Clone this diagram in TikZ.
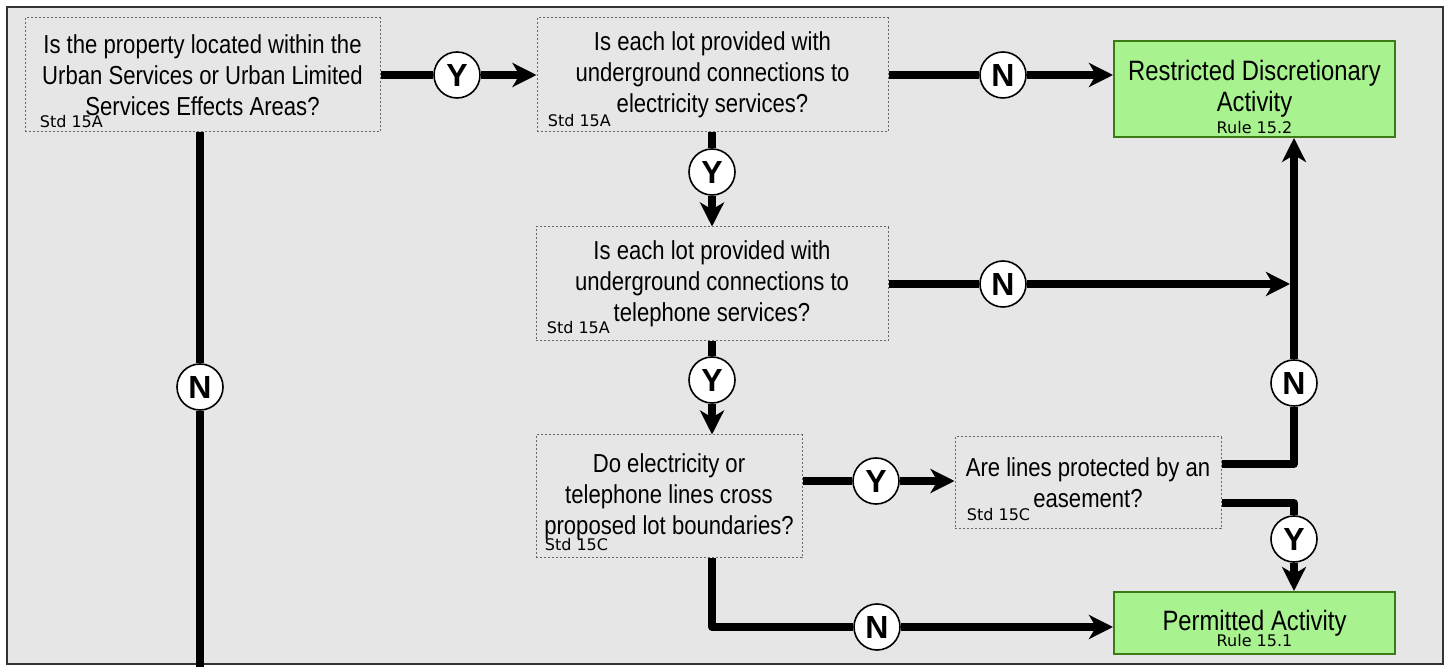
\documentclass[tikz,border=0pt]{standalone}
\usepackage{fontspec}
\setmainfont{Liberation Sans}
\newfontfamily\narrowfont{Liberation Sans}[FakeStretch=0.85]
\newfontfamily\tagfont{DejaVu Sans}
\usetikzlibrary{arrows.meta}
\definecolor{panel}{HTML}{E6E6E6}
\definecolor{okfill}{HTML}{A8F28F}
\definecolor{okline}{HTML}{3C7A14}
\tikzset{
  qbox/.style={draw=black!60, dash pattern=on 1pt off 1pt, line width=0.5pt, inner sep=0pt, align=center,
    font=\narrowfont\fontsize{13}{15.5}\selectfont},
  outbox/.style={draw=okline, fill=okfill, line width=1pt, inner sep=0pt, align=center,
    font=\narrowfont\fontsize{14}{15.5}\selectfont},
  stdtag/.style={inner sep=0pt, font=\tagfont\fontsize{8}{8}\selectfont},
  yn/.style={circle, draw, fill=white, line width=0.8pt, minimum size=23pt, inner sep=0pt,
    font=\bfseries\fontsize{16}{16}\selectfont},
  flow/.style={line width=3.75pt, line join=round},
  arrowflow/.style={flow, -{Stealth[length=12pt,width=12pt,inset=3.5pt]}}
}
\begin{document}
\begin{tikzpicture}[x=0.5pt,y=-0.5pt]
\useasboundingbox (0,0) rectangle (1451,667);
\draw[fill=panel, draw=black!80, line width=1pt] (7,7) rectangle (1443,664);

\node[qbox, minimum width=177.5pt, minimum height=57pt] (q1) at (202.5,75) {Is the property located within the\\Urban Services or Urban Limited\\Services Effects Areas?};
\node[qbox, minimum width=175.5pt, minimum height=57pt] (q2) at (712.5,75) {Is each lot provided with\\underground connections to\\electricity services?};
\node[qbox, minimum width=176pt, minimum height=57pt] (q3) at (712,284) {Is each lot provided with\\underground connections to\\telephone services?};
\node[qbox, minimum width=133pt, minimum height=61.5pt] (q4) at (669,496.5) {Do electricity or\\telephone lines cross\\proposed lot boundaries?};
\node[qbox, minimum width=133pt, minimum height=46pt] (q5) at (1088,483) {Are lines protected by an\\easement?};
\node[outbox, minimum width=140.5pt, minimum height=48pt] (rda) at (1254.5,89) {Restricted Discretionary\\Activity};
\node[outbox, minimum width=140.5pt, minimum height=31pt] (pa) at (1254.5,623) {Permitted Activity};

\node[stdtag, anchor=south west] (t1) at ([xshift=7.5pt,yshift=2pt]q1.south west) {Std 15A};
\node[stdtag, anchor=south west] (t2) at ([xshift=5.5pt,yshift=2.5pt]q2.south west) {Std 15A};
\node[stdtag, anchor=south west] (t3) at ([xshift=5.5pt,yshift=3.5pt]q3.south west) {Std 15A};
\node[stdtag, anchor=south west] (t4) at ([xshift=4.5pt,yshift=3.5pt]q4.south west) {Std 15C};
\node[stdtag, anchor=south west] (t5) at ([xshift=6pt,yshift=4pt]q5.south west) {Std 15C};
\node[stdtag, anchor=south] (r1) at ([yshift=2pt]rda.south) {Rule 15.2};
\node[stdtag, anchor=south] (r2) at ([yshift=4pt]pa.south) {Rule 15.1};

\node[yn] (y1) at (457,75) {Y};
\node[yn] (n1) at (1003,75) {N};
\node[yn] (y2) at (712,172) {Y};
\node[yn] (n2) at (1003,284) {N};
\node[yn] (y3) at (712,380) {Y};
\node[yn] (y4) at (876,481) {Y};
\node[yn] (n3) at (1294,383) {N};
\node[yn] (y5) at (1294,539) {Y};
\node[yn] (n4) at (877,627) {N};
\node[yn] (n5) at (200,387) {N};

\coordinate (c1) at (1294,464);
\coordinate (c2) at (1294,503);
\coordinate (c3) at (712,627);
\coordinate (tj) at (1290,284);
\coordinate (bot) at (200,667);

\draw[flow] (q1.east) -- (y1);
\draw[arrowflow] (y1) -- (q2.west);
\draw[flow] (q2.east) -- (n1);
\draw[arrowflow] (n1) -- (n1 -| rda.west);
\draw[flow] (q2.south -| y2) -- (y2);
\draw[arrowflow] (y2) -- (q3.north);
\draw[flow] (q3.east) -- (n2);
\draw[arrowflow] (n2) -- (tj);
\draw[flow] (q3.south) -- (y3);
\draw[arrowflow] (y3) -- (y3 |- q4.north);
\draw[flow] (q4.east |- y4) -- (y4);
\draw[arrowflow] (y4) -- (y4 -| q5.west);
\draw[flow] (q5.east |- c1) -- (c1) -- (n3);
\draw[arrowflow] (n3) -- (n3 |- rda.south);
\draw[flow] (q5.east |- c2) -- (c2) -- (y5);
\draw[arrowflow] (y5) -- (y5 |- pa.north);
\draw[flow] (q4.south -| c3) -- (c3) -- (n4);
\draw[arrowflow] (n4) -- (n4 -| pa.west);
\draw[flow] (q1.south -| n5) -- (n5);
\draw[flow] (n5) -- (bot);
\end{tikzpicture}
\end{document}
